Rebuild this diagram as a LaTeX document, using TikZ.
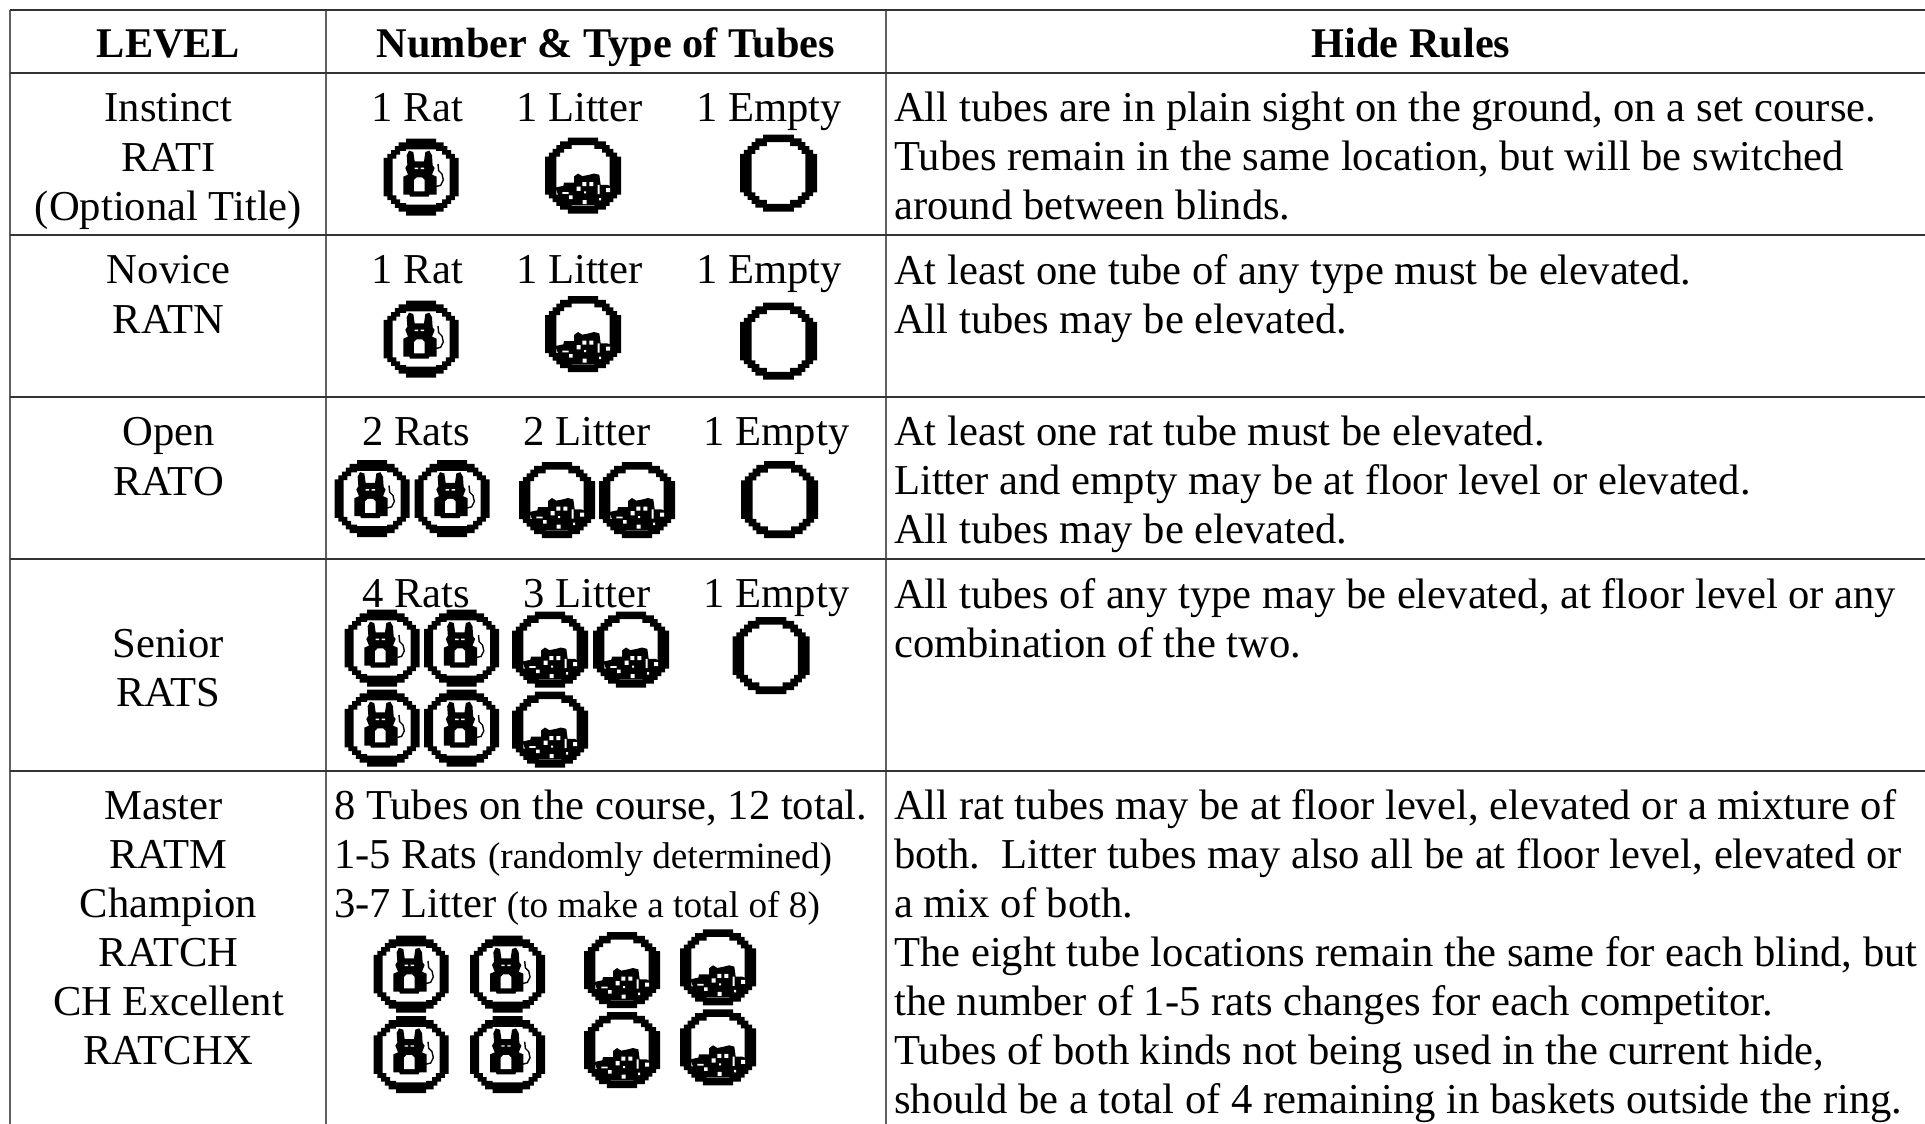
\documentclass[tikz,border=0pt]{standalone}
\usepackage{fontspec}
\setmainfont{Liberation Serif}
\def\outerpoly{(-4,10)--(4,10)--(4,9)--(6,9)--(6,8)--(7,8)--(7,7)--(8,7)--(8,6)--(9,6)--(9,5)--(10,5)--(10,-5)--(9,-5)--(9,-6)--(8,-6)--(8,-7)--(7,-7)--(7,-8)--(6,-8)--(6,-9)--(4,-9)--(4,-10)--(-4,-10)--(-4,-9)--(-6,-9)--(-6,-8)--(-7,-8)--(-7,-7)--(-8,-7)--(-8,-6)--(-9,-6)--(-9,-5)--(-10,-5)--(-10,5)--(-9,5)--(-9,6)--(-8,6)--(-8,7)--(-7,7)--(-7,8)--(-6,8)--(-6,9)--(-4,9)--cycle}
\def\thickhole{(-3,8)--(3,8)--(3,7)--(5,7)--(5,6)--(6,6)--(6,5)--(7,5)--(7,-5)--(6,-5)--(6,-6)--(5,-6)--(5,-7)--(3,-7)--(3,-8)--(-3,-8)--(-3,-7)--(-5,-7)--(-5,-6)--(-6,-6)--(-6,-5)--(-7,-5)--(-7,5)--(-6,5)--(-6,6)--(-5,6)--(-5,7)--(-3,7)--cycle}
\def\rathole{(-4,7.2)--(4,7.2)--(4,6.8)--(5.6,6.8)--(5.6,5.8)--(6.6,5.8)--(6.6,4.8)--(7.6,4.8)--(7.6,-4.8)--(6.6,-4.8)--(6.6,-5.8)--(5.6,-5.8)--(5.6,-6.8)--(4,-6.8)--(4,-7.2)--(-4,-7.2)--(-4,-6.8)--(-5.6,-6.8)--(-5.6,-5.8)--(-6.6,-5.8)--(-6.6,-4.8)--(-7.6,-4.8)--(-7.6,4.8)--(-6.6,4.8)--(-6.6,5.8)--(-5.6,5.8)--(-5.6,6.8)--(-4,6.8)--cycle}
\tikzset{
  x=1pt,y=-1pt,
  cellc/.style={anchor=north,inner sep=0pt,align=center,font=\fontsize{42.6}{49.1}\selectfont,execute at begin node={\rule{0pt}{34pt}}},
  celll/.style={anchor=north west,inner sep=0pt,align=left,font=\fontsize{42.6}{49.1}\selectfont,execute at begin node={\rule{0pt}{34pt}}},
  head/.style={anchor=north,inner sep=0pt,font=\fontsize{42.3}{49.1}\selectfont\bfseries,execute at begin node={\rule{0pt}{34pt}}},
  vrule/.style={draw=black!62,line width=1.5pt},
  hrule/.style={draw=black!80,line width=1.3pt},
  pics/empty/.style={code={
    \begin{scope}[x=3.85pt,y=3.85pt]
      \fill[black,even odd rule] \outerpoly \thickhole;
    \end{scope}}},
  pics/rat/.style={code={
    \begin{scope}[x=3.75pt,y=3.85pt]
      \fill[black,even odd rule] \outerpoly \rathole;
    \end{scope}
    \begin{scope}[x=.3333pt,y=-.3333pt,shift={(-127,-127)}]
      \fill[black] (84,62)--(91,48)--(104,52)--(108,80)--(136,80)--(140,52)--(152,48)--(160,62)--(162,92)--(168,100)--(160,120)--(174,126)--(174,180)--(152,180)--(150,186)--(94,186)--(92,180)--(74,180)--(74,126)--(88,120)--(80,100)--(86,90)--cycle;
      \fill[white] (106,136)--(114,128)--(130,128)--(138,136)--(138,170)--(106,170)--cycle;
      \fill[white] (108,99) rectangle (118,103) (126,99) rectangle (136,103);
      \draw[black,line width=1.4pt] (170,156)--(186,152)--(194,136)--(190,118)--(180,108)--(178,88);
    \end{scope}}},
  pics/litter/.style={code={
    \begin{scope}[x=3.8pt,y=3.8pt]
      \fill[black,even odd rule] \outerpoly \thickhole;
    \end{scope}
    \begin{scope}[x=.3333pt,y=-.3333pt,shift={(-127,-122)}]
      \fill[black] (44,158)--(68,153)--(70,143)--(100,143)--(100,125)--(112,116)--(125,124)--(145,120)--(160,116)--(176,120)--(180,150)--(200,150)--(218,158)--(190,212)--(64,212)--cycle;
      \fill[white] (65,172) rectangle (84,177) (85,182) rectangle (96,193) (108,155) rectangle (120,168)
        (125,142) rectangle (137,154) (146,142) rectangle (158,154) (171,150) rectangle (177,178)
        (196,160) rectangle (208,172) (126,196) rectangle (138,208) (175,190) rectangle (181,197)
        (130,170) rectangle (136,176);
    \end{scope}}},
}
\begin{document}
\begin{tikzpicture}
\useasboundingbox (0,0) rectangle (1925,1124);
\fill[white] (0,0) rectangle (1925,1124);
% grid
\coordinate (tl) at (10,10); \coordinate (tr) at (1925,10);
\coordinate (r1l) at (10,73); \coordinate (r1r) at (1925,73);
\coordinate (r2l) at (10,235); \coordinate (r2r) at (1925,235);
\coordinate (r3l) at (10,397); \coordinate (r3r) at (1925,397);
\coordinate (r4l) at (10,559); \coordinate (r4r) at (1925,559);
\coordinate (r5l) at (10,771); \coordinate (r5r) at (1925,771);
\coordinate (bl) at (10,1124); \coordinate (c2t) at (326,10); \coordinate (c2b) at (326,1124);
\coordinate (c3t) at (886,10); \coordinate (c3b) at (886,1124);
\draw[vrule] (tl)--(bl); \draw[vrule] (c2t)--(c2b); \draw[vrule] (c3t)--(c3b);
\draw[hrule] (tl)--(tr); \draw[hrule] (r1l)--(r1r); \draw[hrule] (r2l)--(r2r);
\draw[hrule] (r3l)--(r3r); \draw[hrule] (r4l)--(r4r); \draw[hrule] (r5l)--(r5r);
% header
\node[head] (hlevel) at (168.5,23) {LEVEL};
\node[head] (htubes) at (606,23) {Number \& Type of Tubes};
\node[head] (hhide) at (1411,23) {Hide Rules};
% level column
\node[cellc] (l1) at (168.5,93.5) {Instinct\\RATI\\(Optional Title)};
\node[cellc] (l2) at (168.5,255.5) {Novice\\RATN};
\node[cellc] (l3) at (168.5,417.5) {Open\\RATO};
\node[cellc] (l4) at (168.5,629) {Senior\\RATS};
\node[cellc] (l5) at (168.5,791) {Master\hspace{10pt}\null\\RATM\\Champion\\RATCH\\CH Excellent\\RATCHX};
% tube labels
\node[cellc] (t1a) at (417.5,87.5) {1 Rat};
\node[cellc] (t1b) at (579.5,87.5) {1 Litter};
\node[cellc] (t1c) at (769,87.5) {1 Empty};
\node[cellc] (t2a) at (417.5,249.5) {1 Rat};
\node[cellc] (t2b) at (579.5,249.5) {1 Litter};
\node[cellc] (t2c) at (769,249.5) {1 Empty};
\node[cellc] (t3a) at (416,411.5) {2 Rats};
\node[cellc] (t3b) at (587,411.5) {2 Litter};
\node[cellc] (t3c) at (776.5,411.5) {1 Empty};
\node[cellc] (t4a) at (416,573.5) {4 Rats};
\node[cellc] (t4b) at (587,573.5) {3 Litter};
\node[cellc] (t4c) at (776.5,573.5) {1 Empty};
\node[celll] (t5) at (334,790) {8 Tubes on the course, 12 total.\\1-5 Rats {\fontsize{37.2}{49.1}\selectfont (randomly determined)}\\3-7 Litter {\fontsize{37.2}{49.1}\selectfont (to make a total of 8)}};
% hide rules
\node[celll] (h1) at (894,92) {All tubes are in plain sight on the ground, on a set course.\\Tubes remain in the same location, but will be switched\\around between blinds.};
\node[celll] (h2) at (894,254) {At least one tube of any type must be elevated.\\All tubes may be elevated.};
\node[celll] (h3) at (894,416) {At least one rat tube must be elevated.\\Litter and empty may be at floor level or elevated.\\All tubes may be elevated.};
\node[celll] (h4) at (894,578) {All tubes of any type may be elevated, at floor level or any\\combination of the two.};
\node[celll] (h5) at (894,789) {All rat tubes may be at floor level, elevated or a mixture of\\both.\hspace{7pt} Litter tubes may also all be at floor level, elevated or\\a mix of both.\\The eight tube locations remain the same for each blind, but\\the number of 1-5 rats changes for each competitor.\\Tubes of both kinds not being used in the current hide,\\should be a total of 4 remaining in baskets outside the ring.};
% icons row 1
\pic at (421,177) {rat}; \pic at (583,175.5) {litter}; \pic at (778.5,173) {empty};
% row 2
\pic at (421,339) {rat}; \pic at (583,334) {litter}; \pic at (778.5,341) {empty};
% row 3
\pic at (372,498.5) {rat}; \pic at (452,498.5) {rat}; \pic at (557,500) {litter}; \pic at (637,500) {litter}; \pic at (779.5,499.5) {empty};
% row 4
\pic at (382,648) {rat}; \pic at (461.5,648) {rat}; \pic at (550,649.5) {litter}; \pic at (631,649.5) {litter}; \pic at (771,655.5) {empty};
\pic at (382,728) {rat}; \pic at (461.5,728) {rat}; \pic at (550,729.5) {litter};
% row 5
\pic at (411,974) {rat}; \pic at (507.7,974) {rat}; \pic at (622,970) {litter}; \pic at (718,967.3) {litter};
\pic at (411,1054.7) {rat}; \pic at (507.7,1054.7) {rat}; \pic at (622,1050) {litter}; \pic at (718,1047.3) {litter};
\end{tikzpicture}
\end{document}
